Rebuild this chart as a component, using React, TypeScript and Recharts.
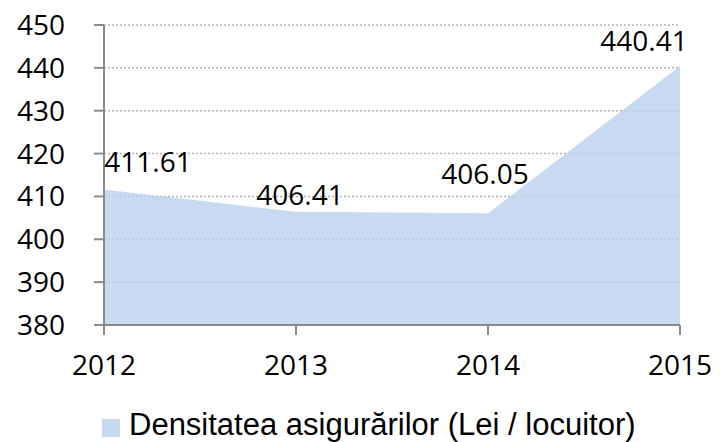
import React from "react";
import { AreaChart, Area, XAxis, YAxis, CartesianGrid, Legend, LabelList } from "recharts";

const years = ["2012", "2013", "2014", "2015"];
const density = [411.61, 406.41, 406.05, 440.41];
const yTicks = [380, 390, 400, 410, 420, 430, 440, 450];
const seriesName = "Densitatea asigurărilor (Lei / locuitor)";

const data = years.map((y, i) => ({ year: y, value: density[i] }));

// label offsets (style only)
const labelOffsets = [
  { dx: 44, dy: -28 },
  { dx: 4, dy: -17 },
  { dx: -3, dy: -39 },
  { dx: -36, dy: -25 },
];

const tickFont = { fontFamily: "'Open Sans', sans-serif", fontSize: 28, fill: "#000" };

const DataLabel = (props: any) => {
  const { x, y, index, value } = props;
  const o = labelOffsets[index] || { dx: 0, dy: -20 };
  return (
    <text
      x={x + o.dx}
      y={y + o.dy}
      dy="0.357em"
      textAnchor="middle"
      fontFamily="'Open Sans', sans-serif"
      fontSize={28}
      fill="#000"
    >
      {Number(value).toFixed(2)}
    </text>
  );
};

const LegendContent = () => (
  <div style={{ position: "relative", width: 720, height: 31 }}>
    <div
      style={{
        position: "absolute",
        left: 102,
        top: 8,
        width: 18,
        height: 18,
        background: "#c6d9f1",
      }}
    />
    <div
      style={{
        position: "absolute",
        left: 129,
        top: -2,
        fontFamily: "'Liberation Sans', Arial, sans-serif",
        fontSize: 31,
        lineHeight: "31px",
        color: "#000",
        whiteSpace: "nowrap",
      }}
    >
      {seriesName}
    </div>
  </div>
);

export default function App() {
  return (
    <div style={{ position: "absolute", left: 0, top: 0, width: 720, height: 442, background: "#fff" }}>
      <AreaChart width={720} height={442} data={data} margin={{ top: 25, right: 40, left: 0, bottom: 0 }}>
        <CartesianGrid vertical={false} stroke="#b4b4b4" strokeDasharray="2 2" strokeWidth={1.5} />
        <Area
          type="linear"
          dataKey="value"
          name={seriesName}
          stroke="none"
          fill="#b8cfee"
          fillOpacity={0.78}
          isAnimationActive={false}
          dot={false}
          activeDot={false}
        >
          <LabelList dataKey="value" content={DataLabel} />
        </Area>
        <XAxis
          dataKey="year"
          height={86}
          tick={tickFont}
          tickSize={10}
          tickMargin={20}
          axisLine={{ stroke: "#8a8a8a", strokeWidth: 2 }}
          tickLine={{ stroke: "#8a8a8a", strokeWidth: 2 }}
          interval={0}
        />
        <YAxis
          width={104}
          domain={[380, 450]}
          ticks={yTicks}
          tick={tickFont}
          tickSize={10}
          tickMargin={29}
          axisLine={{ stroke: "#8a8a8a", strokeWidth: 2 }}
          tickLine={{ stroke: "#8a8a8a", strokeWidth: 2 }}
          interval={0}
        />
        <Legend verticalAlign="bottom" align="left" wrapperStyle={{ left: 0, width: 720 }} content={LegendContent} />
      </AreaChart>
    </div>
  );
}
